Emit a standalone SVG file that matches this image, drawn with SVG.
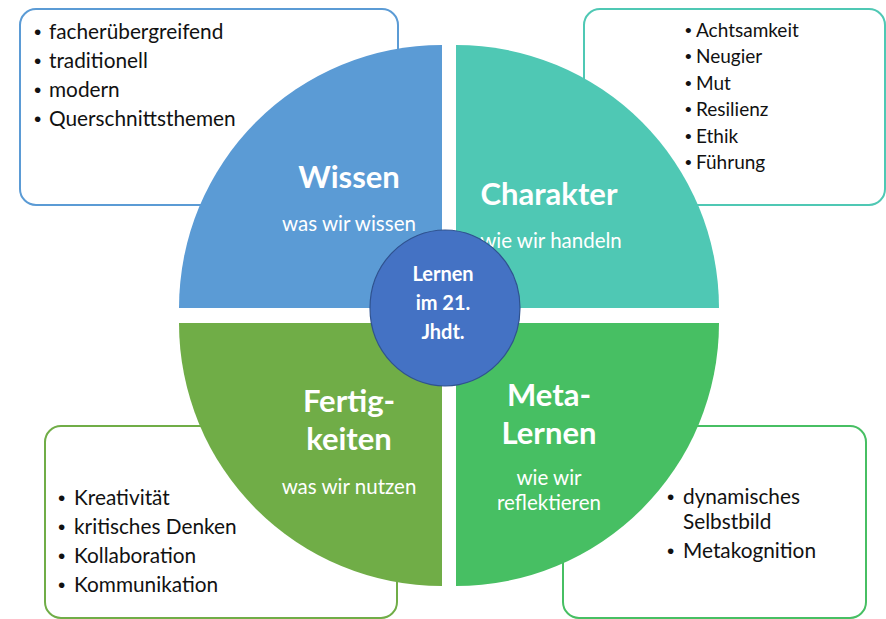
<svg xmlns="http://www.w3.org/2000/svg" width="886" height="619" viewBox="0 0 886 619">
<style>
.box{fill:#fff;stroke-width:2}
.li{font-family:Lato,"Liberation Sans",sans-serif;font-size:20.8px;fill:#111}
.lis{font-family:Lato,"Liberation Sans",sans-serif;font-size:19px;fill:#111}
.b{font-family:"Liberation Sans",sans-serif}
.h{font-family:Lato,"Liberation Sans",sans-serif;font-size:31px;font-weight:bold;fill:#fff;text-anchor:middle}
.s{font-family:Lato,"Liberation Sans",sans-serif;font-size:20.5px;fill:#fff;text-anchor:middle}
.c{font-family:Lato,"Liberation Sans",sans-serif;font-size:20px;font-weight:bold;fill:#fff;text-anchor:middle}
</style>
<rect width="886" height="619" fill="#fff"/>
<g id="box-wissen">
<rect class="box" x="20" y="9" width="378" height="196" rx="16" stroke="#5B9BD5"/>
<text class="li" y="39"><tspan class="b" x="34">•</tspan><tspan x="49">facherübergreifend</tspan></text>
<text class="li" y="68"><tspan class="b" x="34">•</tspan><tspan x="49">traditionell</tspan></text>
<text class="li" y="97"><tspan class="b" x="34">•</tspan><tspan x="49">modern</tspan></text>
<text class="li" y="126"><tspan class="b" x="34">•</tspan><tspan x="49">Querschnittsthemen</tspan></text>
</g>
<g id="box-charakter">
<rect class="box" x="584" y="9" width="301" height="196" rx="16" stroke="#4FC8B4"/>
<text class="lis" y="37"><tspan class="b" x="685">•</tspan><tspan x="696">Achtsamkeit</tspan></text>
<text class="lis" y="63"><tspan class="b" x="685">•</tspan><tspan x="696">Neugier</tspan></text>
<text class="lis" y="90"><tspan class="b" x="685">•</tspan><tspan x="696">Mut</tspan></text>
<text class="lis" y="116"><tspan class="b" x="685">•</tspan><tspan x="696">Resilienz</tspan></text>
<text class="lis" y="143"><tspan class="b" x="685">•</tspan><tspan x="696">Ethik</tspan></text>
<text class="lis" y="169"><tspan class="b" x="685">•</tspan><tspan x="696">Führung</tspan></text>
</g>
<g id="box-fertigkeiten">
<rect class="box" x="45" y="426" width="352" height="192" rx="16" stroke="#70AD47"/>
<text class="li" y="505"><tspan class="b" x="58">•</tspan><tspan x="74">Kreativität</tspan></text>
<text class="li" y="534"><tspan class="b" x="58">•</tspan><tspan x="74">kritisches Denken</tspan></text>
<text class="li" y="563"><tspan class="b" x="58">•</tspan><tspan x="74">Kollaboration</tspan></text>
<text class="li" y="592"><tspan class="b" x="58">•</tspan><tspan x="74">Kommunikation</tspan></text>
</g>
<g id="box-metalernen">
<rect class="box" x="563" y="426" width="303" height="192" rx="16" stroke="#47BF63"/>
<text class="li" y="504"><tspan class="b" x="667">•</tspan><tspan x="683">dynamisches</tspan></text>
<text class="li" y="529"><tspan x="683">Selbstbild</tspan></text>
<text class="li" y="558"><tspan class="b" x="667">•</tspan><tspan x="683">Metakognition</tspan></text>
</g>
<g id="q-wissen">
<path d="M442,308 L179,308 A263,263 0 0 1 442,45 Z" fill="#5B9BD5"/>
<text class="h" x="349" y="188">Wissen</text>
<text class="s" x="349" y="231">was wir wissen</text>
</g>
<g id="q-charakter">
<path d="M456,308 L456,45 A263,263 0 0 1 719,308 Z" fill="#4FC8B4"/>
<text class="h" x="549" y="205">Charakter</text>
<text class="s" x="551" y="248">wie wir handeln</text>
</g>
<g id="q-fertigkeiten">
<path d="M442,323 L442,586 A263,263 0 0 1 179,323 Z" fill="#70AD47"/>
<text class="h" x="349" y="412">Fertig-</text>
<text class="h" x="349" y="450">keiten</text>
<text class="s" x="349" y="494">was wir nutzen</text>
</g>
<g id="q-metalernen">
<path d="M456,323 L719,323 A263,263 0 0 1 456,586 Z" fill="#47BF63"/>
<text class="h" x="549" y="406">Meta-</text>
<text class="h" x="549" y="444">Lernen</text>
<text class="s" x="549" y="485">wie wir</text>
<text class="s" x="549" y="510">reflektieren</text>
</g>
<g id="center">
<ellipse cx="445" cy="308" rx="75" ry="78" fill="#4472C4" stroke="#2F528F" stroke-width="1.2"/>
<text class="c" x="443" y="281">Lernen</text>
<text class="c" x="443" y="310">im 21.</text>
<text class="c" x="443" y="339">Jhdt.</text>
</g>
<g id="connectors"/>
</svg>
